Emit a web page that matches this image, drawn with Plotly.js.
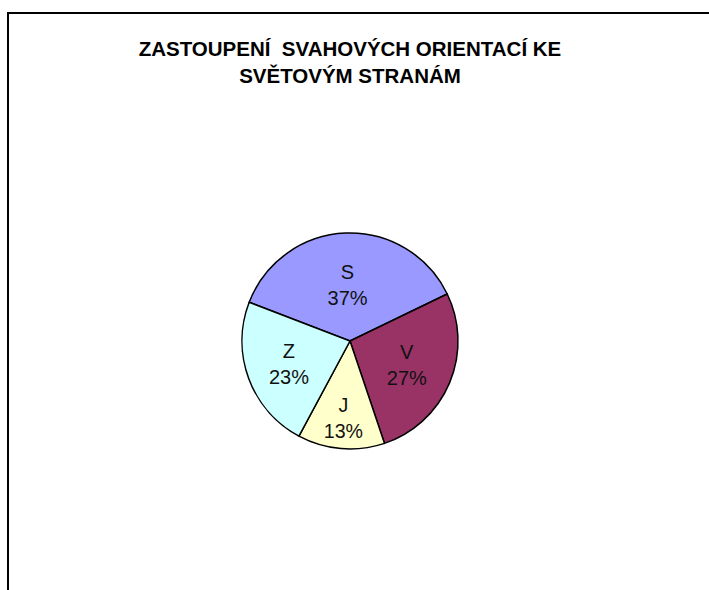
<!DOCTYPE html>
<html>
<head>
<meta charset="utf-8">
<script src="https://cdn.plot.ly/plotly-3.0.1.min.js"></script>
<style>
  html, body { margin: 0; padding: 0; background: #fff; }
  #chart { width: 709px; height: 590px; }
</style>
</head>
<body>
<div id="chart"></div>
<script>
const categories = ["S", "V", "J", "Z"];
const values = [37, 27, 13, 23];
const sliceColors = ["#9999FF", "#993366", "#FFFFCC", "#CCFFFF"];
const chartTitle = "ZASTOUPENÍ  SVAHOVÝCH ORIENTACÍ KE<br>SVĚTOVÝM STRANÁM";

const W = 709, H = 590;
const cx = 350, cy = 341, r = 108;
const frameX = 7, frameY = 12;

const trace = {
  type: "pie",
  labels: categories,
  values: values,
  sort: false,
  direction: "clockwise",
  rotation: -69,
  marker: { colors: sliceColors, line: { color: "#000", width: 1.5 } },
  textinfo: "label+percent",
  textposition: "inside",
  insidetextorientation: "horizontal",
  textfont: { family: "Liberation Sans, Arial, sans-serif", size: 20, color: "#111" },
  hoverinfo: "label+percent",
  domain: {
    x: [(cx - r) / W, (cx + r) / W],
    y: [1 - (cy + r) / H, 1 - (cy - r) / H]
  },
  showlegend: false
};

const layout = {
  width: W, height: H,
  margin: { l: 0, r: 0, t: 0, b: 0 },
  paper_bgcolor: "#fff",
  showlegend: false,
  title: {
    text: chartTitle,
    font: { family: "Liberation Sans, Arial, sans-serif", size: 20.5, color: "#000", weight: "bold" },
    x: 350 / W, xanchor: "center",
    y: 1 - 56 / H, yanchor: "top",
    xref: "paper", yref: "container"
  },
  shapes: [
    { type: "rect", xref: "paper", yref: "paper", layer: "above",
      x0: frameX / W, x1: 1.02, y0: 1 - (frameY + 2) / H, y1: 1 - frameY / H,
      fillcolor: "#000", line: { width: 0 } },
    { type: "rect", xref: "paper", yref: "paper", layer: "above",
      x0: frameX / W, x1: (frameX + 2) / W, y0: -0.02, y1: 1 - frameY / H,
      fillcolor: "#000", line: { width: 0 } }
  ]
};

Plotly.newPlot("chart", [trace], layout, { displayModeBar: false, staticPlot: true });
</script>
</body>
</html>
